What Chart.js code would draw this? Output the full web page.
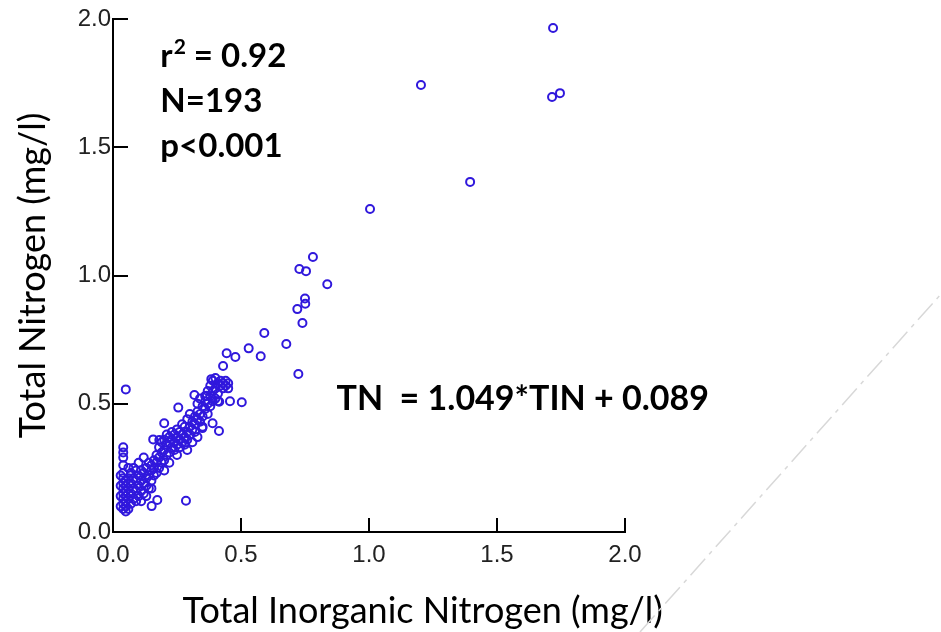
<!DOCTYPE html>
<html lang="en">
<head>
  <meta charset="UTF-8" />
  <title>Total Nitrogen vs Total Inorganic Nitrogen</title>
  <script src="https://cdn.jsdelivr.net/npm/chart.js@4"></script>
  <style>
    html, body { margin: 0; padding: 0; background: #fff; }
    #wrap { width: 941px; height: 632px; }
  </style>
</head>
<body>
  <div id="wrap"><canvas id="chart" width="941" height="632"></canvas></div>

  <script>
    // TIN (x) and TN (y), mg/l
    const tinValues = [
      0.04, 0.04, 0.04, 0.04, 0.04, 0.04, 0.04, 0.04, 0.04, 0.04, 0.04, 0.04,
      0.05, 0.05, 0.05, 0.05, 0.05, 0.05, 0.05, 0.03, 0.03, 0.03, 0.03,
      0.06, 0.06, 0.06, 0.06, 0.07, 0.07, 0.07, 0.07, 0.08, 0.08, 0.08, 0.08,
      0.09, 0.09, 0.09, 0.10, 0.10, 0.10, 0.10, 0.11, 0.11, 0.11,
      0.12, 0.12, 0.12, 0.12, 0.13, 0.13, 0.13, 0.14, 0.14, 0.14,
      0.15, 0.15, 0.15, 0.16, 0.16, 0.16, 0.17, 0.17, 0.17, 0.18, 0.18, 0.18,
      0.19, 0.19, 0.19, 0.20, 0.20, 0.20, 0.21, 0.21, 0.21, 0.22, 0.22, 0.22,
      0.23, 0.23, 0.23, 0.24, 0.24, 0.24, 0.25, 0.25, 0.25, 0.26, 0.26, 0.26,
      0.27, 0.27, 0.27, 0.28, 0.28, 0.28, 0.29, 0.29, 0.29, 0.30, 0.30, 0.30,
      0.31, 0.31, 0.31, 0.32, 0.32, 0.32, 0.33, 0.33, 0.33, 0.34, 0.34, 0.34,
      0.35, 0.35, 0.35, 0.36, 0.36, 0.36, 0.37, 0.37, 0.37, 0.38, 0.38, 0.38,
      0.39, 0.39, 0.39, 0.40, 0.40, 0.40, 0.41, 0.41, 0.41, 0.42, 0.42,
      0.43, 0.43, 0.44, 0.44, 0.45, 0.45,
      0.05, 0.43, 0.384, 0.503, 0.457, 0.415, 0.255, 0.318, 0.366, 0.20,
      0.414, 0.389, 0.349, 0.157, 0.181, 0.285, 0.151, 0.173,
      0.444, 0.478, 0.577, 0.530, 0.677, 0.591, 0.724, 0.740, 0.720, 0.750,
      0.751, 0.837, 0.728, 0.754, 0.781, 1.004, 1.395, 1.203, 1.715, 1.746, 1.719,
      0.06, 0.09, 0.11, 0.13, 0.15, 0.20, 0.22, 0.25, 0.29, 0.33
    ];
    const tnValues = [
      0.33, 0.31, 0.29, 0.26, 0.23, 0.21, 0.19, 0.17, 0.15, 0.13, 0.11, 0.09,
      0.08, 0.10, 0.12, 0.14, 0.16, 0.18, 0.20, 0.22, 0.18, 0.14, 0.10,
      0.09, 0.13, 0.17, 0.21, 0.11, 0.15, 0.19, 0.23, 0.13, 0.17, 0.21, 0.25,
      0.12, 0.16, 0.20, 0.14, 0.18, 0.22, 0.27, 0.16, 0.20, 0.24,
      0.15, 0.19, 0.23, 0.29, 0.18, 0.21, 0.25, 0.17, 0.22, 0.27,
      0.20, 0.24, 0.26, 0.22, 0.25, 0.28, 0.23, 0.27, 0.30, 0.25, 0.29, 0.33,
      0.27, 0.31, 0.35, 0.28, 0.32, 0.36, 0.30, 0.34, 0.38, 0.31, 0.35, 0.37,
      0.33, 0.36, 0.39, 0.32, 0.35, 0.38, 0.34, 0.37, 0.40, 0.33, 0.36, 0.39,
      0.35, 0.38, 0.42, 0.34, 0.37, 0.41, 0.36, 0.39, 0.44, 0.38, 0.41, 0.46,
      0.40, 0.43, 0.35, 0.42, 0.45, 0.39, 0.44, 0.47, 0.50, 0.43, 0.46, 0.52,
      0.45, 0.49, 0.41, 0.48, 0.51, 0.53, 0.46, 0.50, 0.55, 0.49, 0.53, 0.57,
      0.51, 0.55, 0.59, 0.52, 0.56, 0.60, 0.54, 0.58, 0.51, 0.57, 0.59,
      0.56, 0.58, 0.57, 0.59, 0.58, 0.56,
      0.556, 0.647, 0.596, 0.506, 0.510, 0.508, 0.485, 0.534, 0.531, 0.424,
      0.394, 0.424, 0.405, 0.361, 0.359, 0.122, 0.101, 0.125,
      0.697, 0.682, 0.685, 0.716, 0.733, 0.776, 0.616, 0.815, 0.869, 0.910,
      0.890, 0.966, 1.025, 1.017, 1.072, 1.259, 1.365, 1.743, 1.696, 1.711, 1.965,
      0.25, 0.24, 0.12, 0.14, 0.17, 0.24, 0.27, 0.30, 0.32, 0.37
    ];
    const tickValues = [0, 0.5, 1.0, 1.5, 2.0];
    const statLines = ["N=193", "p<0.001"];
    const equationText = "TN  = 1.049*TIN + 0.089";

    const points = tinValues.map((x, i) => ({ x: x, y: tnValues[i] }));
    const markColor = '#3018dc';

    // ticks pointing into the plot, texts and the faint grey stroke
    const decorPlugin = {
      id: 'decor',
      afterDraw(chart) {
        const ctx = chart.ctx;
        const xs = chart.scales.x, ys = chart.scales.y;
        const area = chart.chartArea;
        ctx.save();
        ctx.strokeStyle = '#000';
        ctx.lineWidth = 2;
        tickValues.slice(1).forEach(v => {
          const px = Math.round(xs.getPixelForValue(v));
          ctx.beginPath();
          ctx.moveTo(px, area.bottom);
          ctx.lineTo(px, area.bottom - 14);
          ctx.stroke();
          const py = Math.round(ys.getPixelForValue(v));
          ctx.beginPath();
          ctx.moveTo(area.left, py);
          ctx.lineTo(area.left + 15, py);
          ctx.stroke();
        });

        // statistics block
        ctx.fillStyle = '#000';
        ctx.textAlign = 'left';
        ctx.textBaseline = 'alphabetic';
        const bold = 'bold 33px Lato';
        const tx = xs.getPixelForValue(0.185);
        ctx.font = bold;
        let y0 = ys.getPixelForValue(1.813);
        ctx.fillText('r', tx, y0);
        let w = ctx.measureText('r').width;
        ctx.font = 'bold 21px Lato';
        ctx.fillText('2', tx + w + 1, y0 - 13);
        w += ctx.measureText('2').width + 1;
        ctx.font = bold;
        ctx.fillText(' = 0.92', tx + w, y0);
        statLines.forEach((s, i) => {
          ctx.fillText(s, tx, y0 + 45 * (i + 1));
        });

        // regression equation
        ctx.font = 'bold 34px Lato';
        ctx.fillText(equationText, xs.getPixelForValue(0.873), ys.getPixelForValue(0.475));

        // x axis title
        ctx.font = '36px Lato';
        ctx.textAlign = 'center';
        ctx.fillText('Total Inorganic Nitrogen (mg/l)', xs.getPixelForValue(1.21), area.bottom + 91);

        // faint dashed stroke bottom right
        ctx.strokeStyle = '#d8d8d8';
        ctx.lineWidth = 1.5;
        ctx.setLineDash([22, 6, 4, 6]);
        ctx.beginPath();
        ctx.moveTo(chart.width - 301, chart.height);
        ctx.lineTo(chart.width, chart.height - 338);
        ctx.stroke();
        ctx.restore();
      }
    };

    new Chart(document.getElementById('chart').getContext('2d'), {
      type: 'scatter',
      data: {
        datasets: [{
          label: 'TN vs TIN',
          data: points,
          borderColor: markColor,
          backgroundColor: 'rgba(0,0,0,0)',
          pointRadius: 4,
          pointBorderWidth: 2,
          pointHoverRadius: 4
        }]
      },
      options: {
        responsive: false,
        animation: false,
        events: [],
        layout: { padding: { left: 0, top: 19, right: 316, bottom: 0 } },
        plugins: { legend: { display: false }, tooltip: { enabled: false } },
        scales: {
          x: {
            type: 'linear',
            min: 0, max: 2,
            afterFit: (s) => { s.height = 100; },
            afterBuildTicks: (s) => { s.ticks = tickValues.map(v => ({ value: v })); },
            ticks: {
              color: '#222',
              font: { family: 'Liberation Sans', size: 24 },
              padding: 9,
              maxRotation: 0,
              callback: (v) => Number(v).toFixed(1)
            },
            grid: { display: true, drawOnChartArea: false, drawTicks: false },
            border: { display: true, color: '#000', width: 2 }
          },
          y: {
            type: 'linear',
            min: 0, max: 2,
            afterFit: (s) => { s.width = 113; },
            afterBuildTicks: (s) => { s.ticks = tickValues.map(v => ({ value: v })); },
            ticks: {
              color: '#222',
              font: { family: 'Liberation Sans', size: 24 },
              padding: 2,
              callback: (v) => Number(v).toFixed(1)
            },
            grid: { display: true, drawOnChartArea: false, drawTicks: false },
            border: { display: true, color: '#000', width: 2 },
            title: {
              display: true,
              text: 'Total Nitrogen (mg/l)',
              color: '#000',
              font: { family: 'Lato', size: 36 },
              padding: { top: 12, bottom: 0 }
            }
          }
        }
      },
      plugins: [decorPlugin]
    });
  </script>
</body>
</html>
